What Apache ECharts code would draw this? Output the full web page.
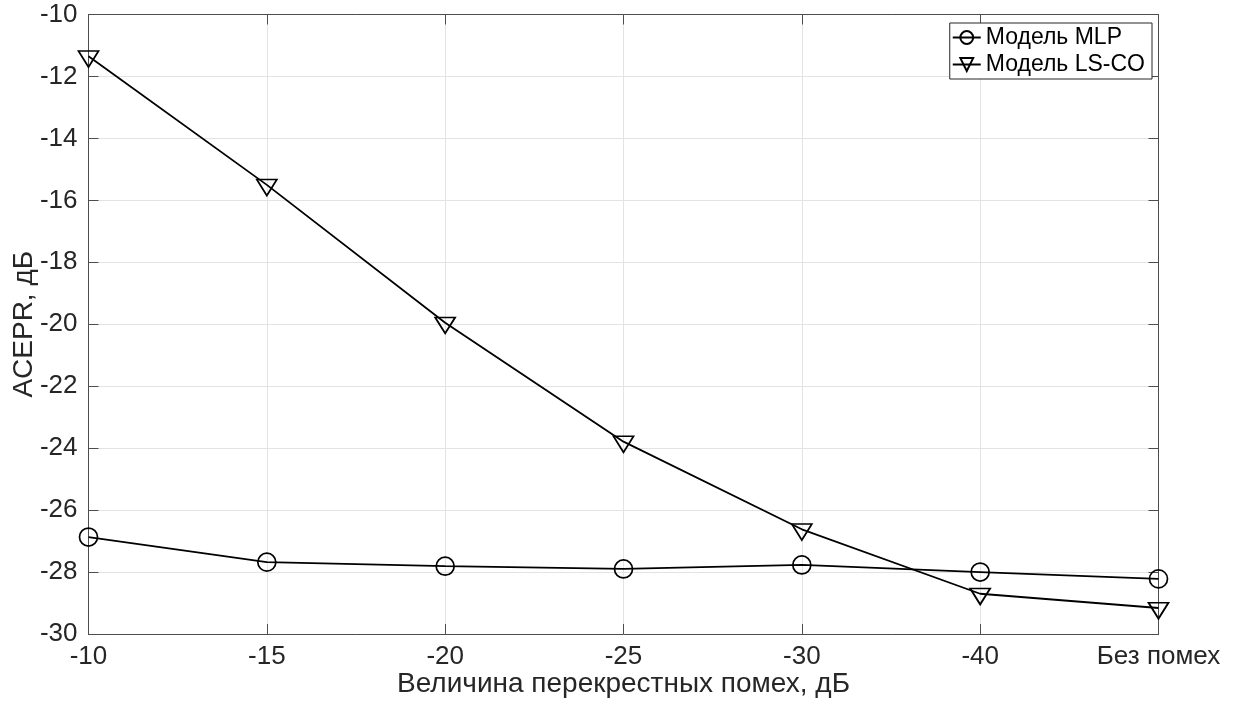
<!DOCTYPE html>
<html>
<head>
<meta charset="utf-8">
<script src="https://cdn.jsdelivr.net/npm/echarts@6/dist/echarts.min.js"></script>
<style>
  html, body { margin: 0; padding: 0; background: #fff; }
  #chart { width: 1235px; height: 708px; }
</style>
</head>
<body>
<div id="chart"></div>
<script>
// Crosstalk level categories along the x axis
const categories = ['-10', '-15', '-20', '-25', '-30', '-40', 'Без помех'];
// ACEPR, dB for each model
const mlpValues  = [-26.87, -27.68, -27.81, -27.90, -27.77, -28.00, -28.22];
const lscoValues = [-11.35, -15.50, -19.95, -23.79, -26.62, -28.70, -29.16];
const seriesNames = ['Модель MLP', 'Модель LS-CO'];
// y axis range and step
const yMin = -30, yMax = -10, yStep = 2;

const FONT = '"Liberation Sans", Arial, Helvetica, sans-serif';
const TEXT = '#262626';
const AXIS = '#4d4d4d';
const GRID = '#e3e3e3';

const chart = echarts.init(document.getElementById('chart'), null, { renderer: 'canvas' });

const tickStyle = { show: true, inside: true, length: 10, lineStyle: { color: AXIS, width: 1 } };

chart.setOption({
  animation: false,
  backgroundColor: '#fff',
  textStyle: { fontFamily: FONT, color: TEXT },
  grid: { left: 88.5, right: 76.5, top: 14.5, bottom: 74, containLabel: false, outerBoundsMode: 'none' },
  legend: {
    data: seriesNames,
    orient: 'vertical',
    right: 83,
    top: 23,
    padding: [3, 7, 3, 2],
    itemGap: 4,
    itemWidth: 28,
    itemHeight: 16,
    backgroundColor: '#fff',
    borderColor: TEXT,
    borderWidth: 1,
    borderRadius: 0,
    textStyle: { fontFamily: FONT, fontSize: 23, color: '#000' }
  },
  xAxis: [
    {
      type: 'category',
      data: categories,
      boundaryGap: false,
      position: 'bottom',
      axisLine: { show: true, onZero: false, lineStyle: { color: AXIS, width: 1 } },
      axisTick: Object.assign({ alignWithLabel: true }, tickStyle),
      axisLabel: { fontFamily: FONT, fontSize: 26, color: TEXT, margin: 10 },
      splitLine: { show: true, lineStyle: { color: GRID, width: 1 } },
      name: 'Величина перекрестных помех, дБ',
      nameLocation: 'middle',
      nameGap: 36,
      nameMoveOverlap: false,
      nameTextStyle: { fontFamily: FONT, fontSize: 28, color: TEXT }
    },
    {
      type: 'category',
      data: categories,
      boundaryGap: false,
      position: 'top',
      axisLine: { show: true, onZero: false, lineStyle: { color: AXIS, width: 1 } },
      axisTick: tickStyle,
      axisLabel: { show: false },
      splitLine: { show: false }
    }
  ],
  yAxis: [
    {
      type: 'value',
      min: yMin, max: yMax, interval: yStep,
      position: 'left',
      axisLine: { show: true, onZero: false, lineStyle: { color: AXIS, width: 1 } },
      axisTick: tickStyle,
      axisLabel: { fontFamily: FONT, fontSize: 26, color: TEXT, margin: 11 },
      splitLine: { show: true, lineStyle: { color: GRID, width: 1 } },
      name: 'ACEPR, дБ',
      nameLocation: 'middle',
      nameGap: 50,
      nameMoveOverlap: false,
      nameTextStyle: { fontFamily: FONT, fontSize: 28, color: TEXT }
    },
    {
      type: 'value',
      min: yMin, max: yMax, interval: yStep,
      position: 'right',
      axisLine: { show: true, onZero: false, lineStyle: { color: AXIS, width: 1 } },
      axisTick: tickStyle,
      axisLabel: { show: false },
      splitLine: { show: false }
    }
  ],
  series: [
    {
      name: seriesNames[0],
      type: 'line',
      data: mlpValues,
      symbol: 'circle',
      symbolSize: 18,
      showAllSymbol: true,
      lineStyle: { color: '#000', width: 1.8 },
      itemStyle: { color: 'rgba(255,255,255,0)', borderColor: '#000', borderWidth: 1.7 },
      z: 3
    },
    {
      name: seriesNames[1],
      type: 'line',
      data: lscoValues,
      // downward triangle, positioned so its centroid sits on the data point
      symbol: 'path://M0,0 L20,0 L10,16 Z',
      symbolSize: [20, 16],
      symbolOffset: [0, 2.7],
      showAllSymbol: true,
      lineStyle: { color: '#000', width: 1.8 },
      itemStyle: { color: 'rgba(255,255,255,0)', borderColor: '#000', borderWidth: 1.7 },
      z: 3
    }
  ]
});
</script>
</body>
</html>
